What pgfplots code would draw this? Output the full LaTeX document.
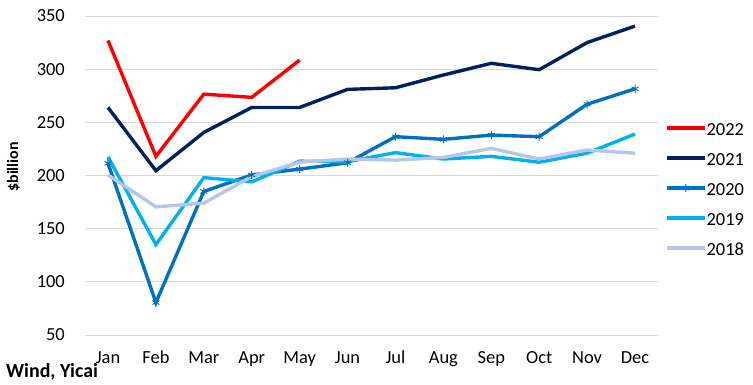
\documentclass[border=0pt]{standalone}
\usepackage{fontspec}
\setmainfont{Carlito}
\usepackage{pgfplots}
\pgfplotsset{compat=1.18}
\definecolor{c22}{RGB}{255,0,0}
\definecolor{c21}{RGB}{0,32,96}
\definecolor{c20}{RGB}{0,112,192}
\definecolor{c19}{RGB}{0,176,240}
\definecolor{c18}{RGB}{180,199,231}
\definecolor{gridc}{RGB}{217,217,217}
\begin{document}
\begin{tikzpicture}
\useasboundingbox (-85bp,-50bp) rectangle (668bp,335bp);
\begin{axis}[
  at={(0,0)}, anchor=south west,
  scale only axis, width=573bp, height=319bp,
  clip=false,
  xmin=-0.48, xmax=11.48, ymin=50, ymax=350,
  xtick={0,...,11},
  xticklabels={Jan,Feb,Mar,Apr,May,Jun,Jul,Aug,Sep,Oct,Nov,Dec},
  ytick={50,100,...,350},
  ymajorgrids, grid style={gridc, line width=0.8pt},
  axis line style={draw=none},
  major tick length=0pt,
  /pgf/number format/assume math mode=true,
  tick label style={font=\fontsize{18.5}{20}\selectfont, text=black},
  yticklabel style={anchor=east, inner sep=0pt, xshift=-20bp},
  xticklabel style={anchor=north, inner sep=0pt, yshift=-16bp},
  every axis plot/.append style={line width=3.4pt},
  legend style={at={(1.007,0.671)}, anchor=north west, draw=none, fill=none,
    font=\fontsize{18.5}{20}\selectfont, text=black,
    nodes={inner sep=0pt, text height=12bp, text depth=0pt},
    row sep=18bp},
  legend cell align=left,
  legend image code/.code={\draw[mark repeat=2, mark phase=2, #1] plot coordinates {(0bp,1bp) (19bp,1bp) (38bp,1bp)};},
]
\addplot[c22, mark=none] coordinates {(0,327) (1,218) (2,276.5) (3,273.5) (4,308.5)};
\addlegendentry{2022}
\addplot[c21, mark=none] coordinates {(0,264) (1,204.5) (2,240.5) (3,264) (4,264) (5,281) (6,282.5) (7,294.5) (8,305.5) (9,299.5) (10,325) (11,340.5)};
\addlegendentry{2021}
\addplot[c20, mark=asterisk, mark size=4pt, mark options={line width=1pt}] coordinates {(0,211.5) (1,80.5) (2,185) (3,200.5) (4,206) (5,212) (6,236.5) (7,234) (8,238) (9,236.5) (10,267) (11,281.5)};
\addlegendentry{2020}
\addplot[c19, mark=none] coordinates {(0,217.5) (1,135) (2,198) (3,194) (4,213.5) (5,213) (6,221.5) (7,215.5) (8,218) (9,212.5) (10,221) (11,239)};
\addlegendentry{2019}
\addplot[c18, mark=none] coordinates {(0,200.5) (1,170.5) (2,174) (3,199) (4,212.5) (5,215.5) (6,214.5) (7,217) (8,225.5) (9,215.5) (10,224) (11,221)};
\addlegendentry{2018}
\node[rotate=90, font=\bfseries\fontsize{16}{18}\selectfont] at (axis description cs:-0.125,0.527) {\$billion};
\node[anchor=base west, inner sep=0pt, font=\bfseries\fontsize{20}{22}\selectfont] at (axis description cs:-0.138,-0.1317) {Wind, Yicai};
\end{axis}
\end{tikzpicture}
\end{document}
